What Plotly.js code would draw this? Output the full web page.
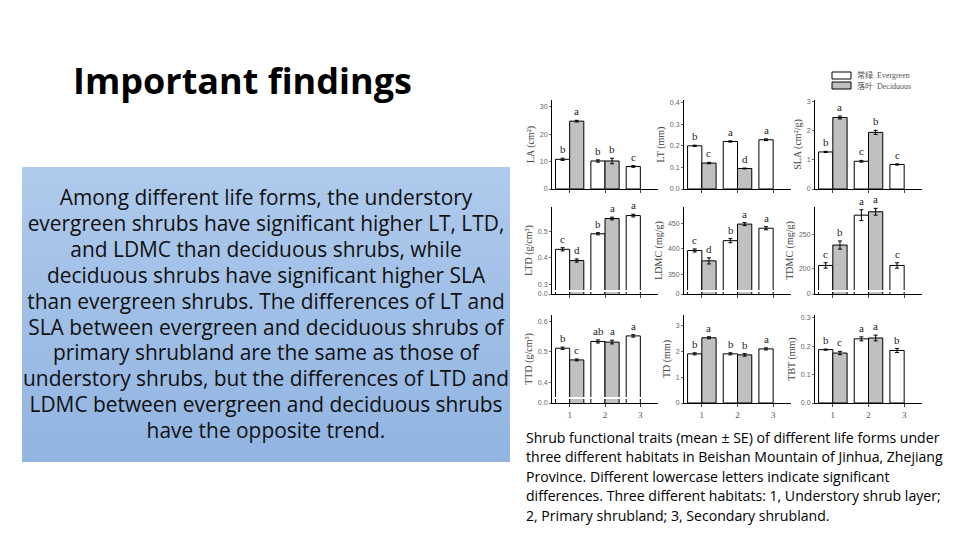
<!DOCTYPE html>
<html>
<head>
<meta charset="utf-8">
<script src="https://cdn.plot.ly/plotly-3.0.1.min.js"></script>
<style>
body{margin:0;width:960px;height:540px;position:relative;background:#fff;overflow:hidden}
#title{position:absolute;left:73px;top:56px;font:bold 36px "Open Sans",sans-serif;color:#000;white-space:nowrap}
#box{position:absolute;left:22px;top:167px;width:488px;height:295px;background:linear-gradient(#afcaec,#91b4e1)}
#boxtext{position:absolute;left:16px;top:185px;width:500px;text-align:center;font:20.9px "Open Sans",sans-serif;line-height:25.9px;color:#111;white-space:nowrap}
#caption{position:absolute;left:526px;top:428px;width:430px;font:14.1px "Open Sans",sans-serif;line-height:19.4px;color:#000;white-space:nowrap}
#myDiv{position:absolute;left:0;top:0;width:960px;height:540px}
</style>
</head>
<body>
<div id="title">Important findings</div>
<div id="box"></div>
<div id="boxtext">Among different life forms, the understory<br>evergreen shrubs have significant higher LT, LTD,<br>and LDMC than deciduous shrubs, while<br>deciduous shrubs have significant higher SLA<br>than evergreen shrubs. The differences of LT and<br>SLA between evergreen and deciduous shrubs of<br>primary shrubland are the same as those of<br>understory shrubs, but the differences of LTD and<br>LDMC between evergreen and deciduous shrubs<br>have the opposite trend.</div>
<div id="caption">Shrub functional traits (mean ± SE) of different life forms under<br>three different habitats in Beishan Mountain of Jinhua, Zhejiang<br>Province. Different lowercase letters indicate significant<br>differences. Three different habitats: 1, Understory shrub layer;<br>2, Primary shrubland; 3, Secondary shrubland.</div>
<div id="myDiv"></div>
<script>
const graphDiv = document.getElementById('myDiv')
const habitats = ['1','2','3']
const lifeForms = ['常绿  Evergreen', '落叶  Deciduous']

// leaf area (cm2)
const laEver = [10.8, 10.2, 8.2], laEverSE = [0.4, 0.4, 0.3], laEverSig = ['b','b','c']
const laDec = [24.7, 10.2, null], laDecSE = [0.3, 1.0, null], laDecSig = ['a','b','']
// leaf thickness (mm)
const ltEver = [0.200, 0.220, 0.228], ltEverSE = [0.003, 0.003, 0.004], ltEverSig = ['b','a','a']
const ltDec = [0.120, 0.095, null], ltDecSE = [0.003, 0.002, null], ltDecSig = ['c','d','']
// specific leaf area
const slaEver = [1.27, 0.95, 0.84], slaEverSE = [0.02, 0.03, 0.02], slaEverSig = ['b','c','c']
const slaDec = [2.45, 1.94, null], slaDecSE = [0.05, 0.07, null], slaDecSig = ['a','b','']
// leaf tissue density
const ltdEver = [0.432, 0.490, 0.558], ltdEverSE = [0.006, 0.004, 0.005], ltdEverSig = ['c','b','a']
const ltdDec = [0.390, 0.547, null], ltdDecSE = [0.006, 0.005, null], ltdDecSig = ['d','a','']
// leaf dry matter content
const ldmcEver = [397, 416, 440], ldmcEverSE = [3, 4, 3], ldmcEverSig = ['c','b','a']
const ldmcDec = [377, 448, null], ldmcDecSE = [6, 3, null], ldmcDecSig = ['d','a','']
// twig dry matter content
const tdmcEver = [205, 279, 205], tdmcEverSE = [4, 8, 4], tdmcEverSig = ['c','a','c']
const tdmcDec = [235, 284, null], tdmcDecSE = [6, 5, null], tdmcDecSig = ['b','a','']
// twig tissue density
const ttdEver = [0.512, 0.534, 0.552], ttdEverSE = [0.004, 0.005, 0.004], ttdEverSig = ['b','ab','a']
const ttdDec = [0.474, 0.532, null], ttdDecSE = [0.003, 0.006, null], ttdDecSig = ['c','a','']
// twig diameter
const tdEver = [1.90, 1.90, 2.09], tdEverSE = [0.04, 0.04, 0.04], tdEverSig = ['b','b','a']
const tdDec = [2.52, 1.86, null], tdDecSE = [0.04, 0.05, null], tdDecSig = ['a','b','']
// twig bark thickness
const tbtEver = [0.188, 0.226, 0.185], tbtEverSE = [0.002, 0.007, 0.007], tbtEverSig = ['b','a','b']
const tbtDec = [0.176, 0.229, null], tbtDecSE = [0.006, 0.010, null], tbtDecSig = ['c','a','']

const panels = [
  {t:'LA (cm²)', ev:laEver, evSE:laEverSE, evS:laEverSig, de:laDec, deSE:laDecSE, deS:laDecSig, range:[0,32.4], tv:[0,10,20,30], tt:['0','10','20','30']},
  {t:'LT (mm)', ev:ltEver, evSE:ltEverSE, evS:ltEverSig, de:ltDec, deSE:ltDecSE, deS:ltDecSig, range:[0,0.412], tv:[0,0.1,0.2,0.3,0.4], tt:['0.0','0.1','0.2','0.3','0.4']},
  {t:'SLA (cm²/g)', ev:slaEver, evSE:slaEverSE, evS:slaEverSig, de:slaDec, deSE:slaDecSE, deS:slaDecSig, range:[0,3.05], tv:[0,1,2,3], tt:['0','1','2','3']},
  {t:'LTD (g/cm³)', ev:ltdEver, evSE:ltdEverSE, evS:ltdEverSig, de:ltdDec, deSE:ltdDecSE, deS:ltdDecSig, range:[0.265,0.59], tv:[0.265,0.3,0.4,0.5], tt:['0.0','0.3','0.4','0.5']},
  {t:'LDMC (mg/g)', ev:ldmcEver, evSE:ldmcEverSE, evS:ldmcEverSig, de:ldmcDec, deSE:ldmcDecSE, deS:ldmcDecSig, range:[313,481], tv:[313,350,400,450], tt:['0','350','400','450']},
  {t:'TDMC (mg/g)', ev:tdmcEver, evSE:tdmcEverSE, evS:tdmcEverSig, de:tdmcDec, deSE:tdmcDecSE, deS:tdmcDecSig, range:[163,291], tv:[163,200,250], tt:['0','200','250']},
  {t:'TTD (g/cm³)', ev:ttdEver, evSE:ttdEverSE, evS:ttdEverSig, de:ttdDec, deSE:ttdDecSE, deS:ttdDecSig, range:[0.334,0.62], tv:[0.334,0.4,0.5,0.6], tt:['0.0','0.4','0.5','0.6']},
  {t:'TD (mm)', ev:tdEver, evSE:tdEverSE, evS:tdEverSig, de:tdDec, deSE:tdDecSE, deS:tdDecSig, range:[0,3.4], tv:[0,1,2,3], tt:['0','1','2','3']},
  {t:'TBT (mm)', ev:tbtEver, evSE:tbtEverSE, evS:tbtEverSig, de:tbtDec, deSE:tbtDecSE, deS:tbtDecSig, range:[0,0.31], tv:[0,0.1,0.2,0.3], tt:['0.0','0.1','0.2','0.3']},
]

// pixel boxes of the 3x3 grid
const cols = [[552,658],[684,791],[815,922]]
const rows = [[100,189],[207,294],[315,403]]
const px = v => v/960
const py = v => 1 - v/540

const data = []
const annotations = []
const shapes = []
const layout = {
  width: 960, height: 540,
  margin: {l:0, r:0, t:0, b:0, pad:0},
  paper_bgcolor: 'rgba(0,0,0,0)',
  plot_bgcolor: 'rgba(0,0,0,0)',
  barmode: 'group', bargap: 0.2, bargroupgap: 0,
  showlegend: false,
  font: {family:'Liberation Serif'},
}

panels.forEach((p, k) => {
  const n = k === 0 ? '' : String(k+1)
  const xa = 'x'+n, ya = 'y'+n
  const c = cols[k%3], r = rows[Math.floor(k/3)]
  const bottom = Math.floor(k/3) === 2
  layout['xaxis'+n] = {
    domain:[px(c[0]), px(c[1])], anchor: ya, type:'category', range:[-0.5,2.5],
    showline:true, linecolor:'#000', linewidth:1, ticks:'outside', ticklen:3, tickcolor:'#444',
    showticklabels: bottom, tickfont:{size:9, color:'#555', family:'Liberation Serif'},
    showgrid:false, zeroline:false, fixedrange:true,
  }
  layout['yaxis'+n] = {
    domain:[py(r[1]), py(r[0])], anchor: xa, range:p.range, tickvals:p.tv, ticktext:p.tt,
    showline:true, linecolor:'#000', linewidth:1, ticks:'outside', ticklen:2, tickcolor:'#666',
    tickfont:{size:7, color:'#666', family:'Liberation Sans'},
    title:{text:p.t, standoff:3, font:{size:10, color:'#444', family:'Liberation Serif'}},
    showgrid:false, zeroline:false, fixedrange:true,
  }
  data.push({
    type:'bar', x:habitats, y:p.ev, xaxis:xa, yaxis:ya, name:lifeForms[0],
    marker:{color:'#ffffff', line:{color:'#000', width:1}},
    error_y:{type:'data', array:p.evSE, color:'#000', thickness:1, width:2},
    hoverinfo:'none',
  })
  data.push({
    type:'bar', x:habitats, y:p.de, xaxis:xa, yaxis:ya, name:lifeForms[1],
    marker:{color:'#c0c0c0', line:{color:'#000', width:1}},
    error_y:{type:'data', array:p.deSE, color:'#000', thickness:1, width:2},
    hoverinfo:'none',
  })
  const labels = (vals, se, sig, shift) => {
    for (let i=0; i<vals.length; i++){
      if (vals[i] == null) continue
      annotations.push({x:i, y:vals[i]+se[i], xref:xa, yref:ya, xshift:shift, yshift:1,
        yanchor:'bottom', showarrow:false, text:sig[i], font:{size:11, color:'#222', family:'Liberation Serif'}})
    }
  }
  labels(p.ev, p.evSE, p.evS, -7)
  labels(p.de, p.deSE, p.deS, 7)
})

// key for the two life forms
const keyFill = ['#ffffff', '#c0c0c0']
lifeForms.forEach((name, i) => {
  const top = 72 + i*10
  shapes.push({type:'rect', xref:'paper', yref:'paper', x0:px(832), x1:px(851), y0:py(top+7), y1:py(top),
    fillcolor:keyFill[i], line:{color:'#000', width:1}})
  annotations.push({x:px(855), y:py(top+3.5), xref:'paper', yref:'paper', xanchor:'left', yanchor:'middle',
    showarrow:false, text:name, font:{size:8, color:'#555', family:'Liberation Serif, Noto Sans CJK SC'}})
})

// axis break gaps
const gaps = [[3,291],[4,291],[5,291],[6,398]]
gaps.forEach(g => {
  const c = cols[g[0]%3]
  shapes.push({type:'rect', xref:'paper', yref:'paper', x0:px(c[0]+1), x1:px(c[1]), y0:py(g[1]+1), y1:py(g[1]-1),
    fillcolor:'#fff', line:{width:0}, layer:'above'})
})

layout.annotations = annotations
layout.shapes = shapes
Plotly.newPlot(graphDiv, data, layout, {displayModeBar:false, staticPlot:true})
</script>
</body>
</html>
